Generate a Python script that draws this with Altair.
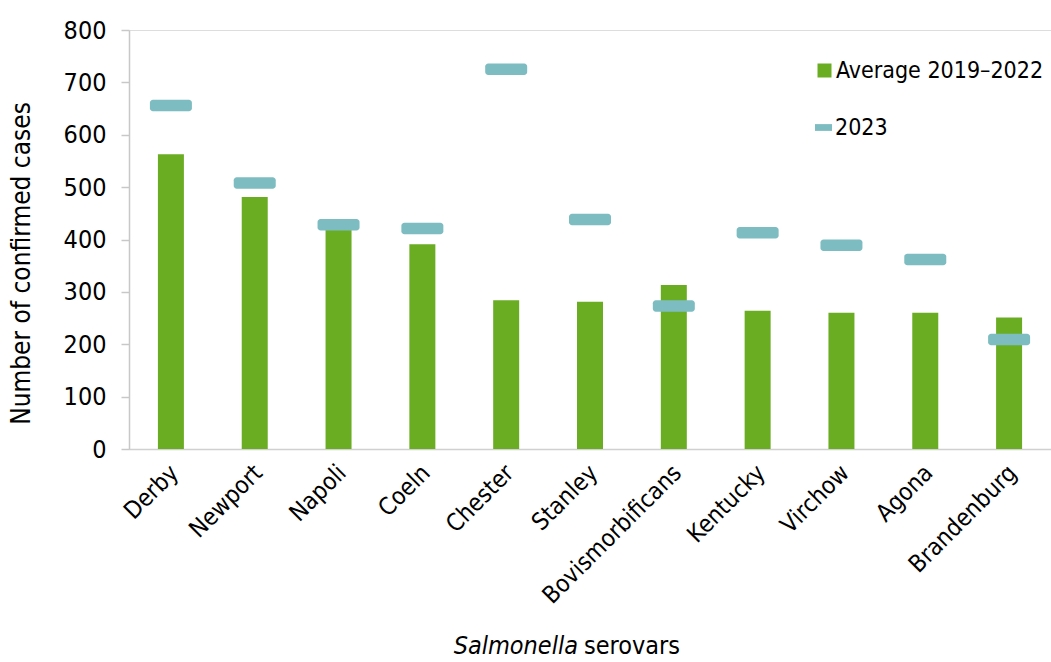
import altair as alt
import pandas as pd

serovars = ["Derby", "Newport", "Napoli", "Coeln", "Chester", "Stanley",
            "Bovismorbificans", "Kentucky", "Virchow", "Agona", "Brandenburg"]
avg_2019_2022 = [563, 481, 418, 391, 284, 281, 313, 264, 260, 260, 251]
cases_2023 = [656, 508, 428, 421, 725, 438, 273, 413, 389, 362, 209]
y_ticks = [0, 100, 200, 300, 400, 500, 600, 700, 800]
series_names = ["Average 2019–2022", "2023"]
x_title_parts = ["Salmonella", "serovars"]

GREEN = "#6aad23"
TEAL = "#7dbdc2"
FONT = "DejaVu Sans Condensed, DejaVu Sans"

df = pd.DataFrame({
    "serovar": serovars,
    "avg": avg_2019_2022,
    "y2023": cases_2023,
    "s_avg": series_names[0],
    "s_2023": series_names[1],
})

W, H = 922, 419

x_enc = alt.X(
    "serovar:N", sort=serovars,
    scale=alt.Scale(paddingInner=0, paddingOuter=0),
    axis=alt.Axis(title=None, labelAngle=-45, labelAlign="right", labelBaseline="middle",
                  labelPadding=20, labelOffset=4, ticks=False, labelFont=FONT,
                  labelFontSize=24, labelColor="black", domainColor="#d0d0d0",
                  domainWidth=1.5, labelLimit=0),
)
y_scale = alt.Scale(domain=[0, 800], nice=False)
y_axis = alt.Axis(title="Number of confirmed cases", values=y_ticks, grid=False,
                  tickSize=8, tickColor="#c8c8c8", tickWidth=1.5,
                  domainColor="#c8c8c8", domainWidth=1.5,
                  labelPadding=15, labelFont=FONT, labelFontSize=25, labelColor="black",
                  titleFont=FONT, titleFontSize=26, titleFontWeight="normal",
                  titleColor="black", titlePadding=29, titleY=233)

bars = alt.Chart(df).mark_bar(size=26, opacity=1).encode(
    x=x_enc,
    y=alt.Y("avg:Q", scale=y_scale, axis=y_axis),
    color=alt.Color("s_avg:N", scale=alt.Scale(domain=[series_names[0]], range=[GREEN]),
                    legend=alt.Legend(title=None, orient="none", legendX=684, legendY=29,
                                      symbolType="square", symbolSize=196,
                                      symbolStrokeWidth=0, labelOffset=0, labelLimit=0,
                                      labelFont=FONT, labelFontSize=23,
                                      labelColor="black", padding=0, symbolOpacity=1)),
)

ticks = alt.Chart(df).mark_tick(thickness=11.5, size=42, cornerRadius=3, opacity=1).encode(
    x=alt.X("serovar:N", sort=serovars),
    y=alt.Y("y2023:Q", scale=y_scale),
    fill=alt.Fill("s_2023:N", scale=alt.Scale(domain=[series_names[1]], range=[TEAL]),
                  legend=alt.Legend(title=None, orient="none", legendX=683, legendY=86,
                                    symbolType="M-1,-0.4H1V0.4H-1Z", symbolSize=289,
                                    symbolStrokeWidth=0, labelOffset=0, labelLimit=0,
                                    labelFont=FONT, labelFontSize=23, symbolOpacity=1,
                                    labelColor="black", padding=0)),
)

t1 = alt.Chart(pd.DataFrame({"t": [x_title_parts[0]]})).mark_text(
    align="right", baseline="alphabetic", font=FONT, fontSize=25, fontStyle="italic",
    color="black").encode(x=alt.value(449), y=alt.value(624), text="t:N")
t2 = alt.Chart(pd.DataFrame({"t": [x_title_parts[1]]})).mark_text(
    align="left", baseline="alphabetic", font=FONT, fontSize=25,
    color="black").encode(x=alt.value(455), y=alt.value(624), text="t:N")

chart = alt.layer(bars, ticks, t1, t2).properties(
    width=W, height=H,
    autosize=alt.AutoSizeParams(type="none"),
    padding={"left": 129, "top": 30, "right": 0, "bottom": 213},
).configure_view(stroke=None).configure(background="white")

chart.save("out.html", embed_options={"renderer": "svg", "actions": False})
